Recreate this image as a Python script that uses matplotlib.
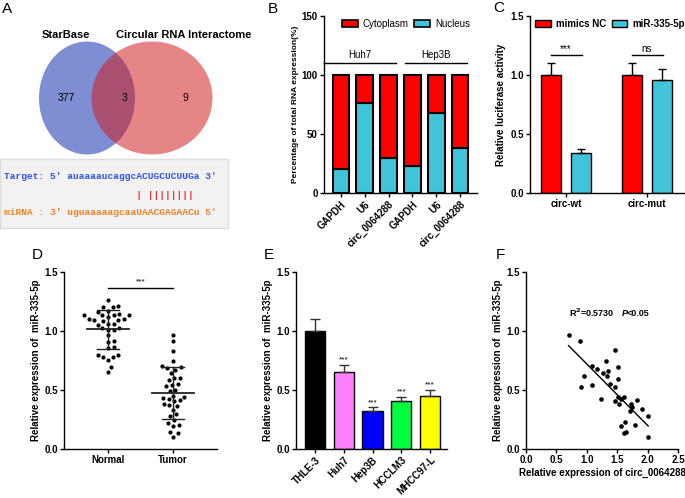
import numpy as np
import matplotlib
matplotlib.use("Agg")
import matplotlib.pyplot as plt
from matplotlib.patches import Ellipse, Rectangle, Patch

# ---- panel A: venn + pairing ----
venn_sets = ["StarBase", "Circular RNA Interactome"]
venn_counts = [377, 3, 9]
target_seq = "Target: 5' auaaaaucaggcACUGCUCUUGa 3'"
pairing = "                       | ||||||||"
mirna_seq = "miRNA : 3' uguaaaaagcaaUAACGAGAACu 5'"

# ---- panel B: subcellular fractions ----
b_cells = ["Huh7", "Hep3B"]
b_genes = ["GAPDH", "U6", "circ_0064288"]
b_nucleus = [20, 76, 30, 23, 68, 38]

# ---- panel C: luciferase ----
c_groups = ["circ-wt", "circ-mut"]
c_series = ["mimics NC", "miR-335-5p"]
c_mean = [[1.00, 1.00], [0.34, 0.96]]
c_err = [[0.10, 0.10], [0.03, 0.09]]
c_sig = ["***", "ns"]

# ---- panel D: tissue expression ----
d_groups = ["Normal", "Tumor"]
d_normal = [1.26, 1.20, 1.20, 1.21, 1.17, 1.16, 1.14, 1.13, 1.13, 1.13, 1.13, 1.12,
            1.10, 1.10, 1.09, 1.09, 1.08, 1.06, 1.06, 1.05, 1.02, 1.02, 1.01, 1.01,
            0.96, 0.91, 0.90, 0.86, 0.85, 0.79, 0.79, 0.78, 0.78, 0.75, 0.69, 0.65]
d_tumor = [0.96, 0.91, 0.83, 0.74, 0.70, 0.69, 0.68, 0.67, 0.64, 0.60, 0.60, 0.58,
           0.55, 0.54, 0.53, 0.50, 0.49, 0.45, 0.44, 0.43, 0.42, 0.41, 0.40, 0.38,
           0.37, 0.36, 0.33, 0.29, 0.28, 0.24, 0.22, 0.20, 0.19, 0.14, 0.13, 0.10]
d_sig = "***"

# ---- panel E: cell lines ----
e_lines = ["THLE-3", "Huh7", "Hep3B", "HCCLM3", "MHCC97-L"]
e_mean = [1.00, 0.65, 0.32, 0.40, 0.45]
e_err = [0.10, 0.06, 0.03, 0.04, 0.05]
e_sig = ["", "***", "***", "***", "***"]
e_colors = ["#000000", "#ff80ff", "#0000ff", "#00ff40", "#ffff00"]

# ---- panel F: correlation ----
f_circ = [0.70, 0.89, 0.90, 0.95, 1.08, 1.09, 1.17, 1.24, 1.26, 1.32, 1.33, 1.35,
          1.38, 1.46, 1.47, 1.46, 1.52, 1.52, 1.51, 1.53, 1.56, 1.56, 1.61, 1.63,
          1.61, 1.64, 1.71, 1.73, 1.74, 1.79, 1.82, 1.90, 2.00, 2.01]
f_mir = [0.96, 0.91, 0.525, 0.62, 0.70, 0.54, 0.675, 0.42, 0.64, 0.74, 0.62, 0.66,
         0.55, 0.84, 0.525, 0.40, 0.695, 0.59, 0.44, 0.375, 0.42, 0.195, 0.44, 0.23,
         0.135, 0.14, 0.32, 0.38, 0.355, 0.20, 0.41, 0.34, 0.28, 0.10]
f_note = "R$^2$=0.5730"

RED = "#ff0000"
CYAN = "#40c4da"

plt.rcParams["font.family"] = ["Liberation Sans", "DejaVu Sans"]
plt.rcParams["font.weight"] = "bold"
plt.rcParams["axes.labelweight"] = "bold"

W, H = 685, 498
fig = plt.figure(figsize=(W / 100, H / 100), dpi=100)


def px_axes(l, t, r, b):
    return fig.add_axes([l / W, 1 - b / H, (r - l) / W, (b - t) / H])


def style(ax):
    for s in ("top", "right"):
        ax.spines[s].set_visible(False)
    for s in ("left", "bottom"):
        ax.spines[s].set_linewidth(1.0)
    ax.tick_params(width=1, length=3, labelsize=7, pad=1.5)


def swarm(vals, d, ppu):
    ys = np.asarray(vals) * ppu
    xs = np.zeros(len(ys))
    placed = []
    for i in np.argsort(ys):
        y = ys[i]
        cand = [0.0]
        for px, py in placed:
            dy = y - py
            if abs(dy) < d:
                dx = np.sqrt(d * d - dy * dy)
                cand += [px + dx, px - dx]
        for c in sorted(cand, key=abs):
            if all((c - px) ** 2 + (y - py) ** 2 >= d * d - 1e-6 for px, py in placed):
                xs[i] = c
                break
        placed.append((xs[i], y))
    return xs


def letter(x, y, s):
    fig.text(x / W, 1 - y / H, s, fontsize=11, fontweight="normal", va="top", ha="left")


# ---------------- A ----------------
axA = px_axes(0, 0, 230, 250)
axA.set_xlim(0, 230)
axA.set_ylim(250, 0)
axA.axis("off")
axA.add_patch(Ellipse((87, 98), 96, 113, facecolor="#2643b6", alpha=0.6, lw=0))
axA.add_patch(Ellipse((152, 98), 121, 113, facecolor="#d11e1e", alpha=0.54, lw=0))
axA.text(66, 35, venn_sets[0], ha="center", va="center", fontsize=8)
axA.text(184, 35, venn_sets[1], ha="center", va="center", fontsize=8)
for xc, n in zip([66, 125, 185], venn_counts):
    axA.text(xc, 98, str(n), ha="center", va="center", fontsize=7.5, fontweight="normal")
axA.add_patch(Rectangle((0, 159), 228, 69, facecolor="#f2f2f2", edgecolor="#dddddd", lw=1))
mono = dict(family="Liberation Mono", fontsize=6.8, fontweight="bold", va="center", ha="left")
axA.text(4, 176, target_seq, color="#2f52ee", **mono)
axA.text(4, 195, pairing, color="#e03a3a", **mono)
axA.text(4, 212, mirna_seq, color="#f08228", **mono)
letter(2, 2, "A")

# ---------------- B ----------------
axB = px_axes(324, 16, 477, 193)
style(axB)
xb = np.arange(len(b_nucleus))
nuc = np.array(b_nucleus)
axB.bar(xb, nuc, 0.7, color=CYAN, edgecolor="black", lw=1.5)
axB.bar(xb, 100 - nuc, 0.7, bottom=nuc, color=RED, edgecolor="black", lw=1.5)
axB.set_xlim(-0.71, 5.71)
axB.set_ylim(0, 150)
axB.set_yticks([0, 50, 100, 150])
axB.set_xticks(xb)
axB.set_xticklabels(b_genes * len(b_cells), rotation=45, ha="right", rotation_mode="anchor")
axB.set_ylabel("Percentage of total RNA expression(%)", fontsize=6, labelpad=2)
for i, (cell, x0, x1) in enumerate(zip(b_cells, [-0.7, 2.7], [2.3, 5.3])):
    axB.plot([x0, x1], [110, 110], color="black", lw=1, clip_on=False)
    axB.text((x0 + x1) / 2, 113, cell, ha="center", va="bottom", fontsize=7, fontweight="normal")
axB.legend(handles=[Patch(facecolor=RED, edgecolor="black", lw=1.2, label="Cytoplasm"),
                    Patch(facecolor=CYAN, edgecolor="black", lw=1.2, label="Nucleus")],
           ncol=2, frameon=False, loc="center", bbox_to_anchor=(406 / W, 1 - 24 / H),
           bbox_transform=fig.transFigure, prop=dict(size=7, weight="normal"),
           handlelength=1.6, handleheight=0.8, columnspacing=0.6, handletextpad=0.5)
letter(268, 2, "B")

# ---------------- C ----------------
axC = px_axes(530, 16, 685, 193)
style(axC)
offs = [-0.185, 0.185]
for j, (name, col) in enumerate(zip(c_series, [RED, CYAN])):
    xs = np.arange(len(c_groups)) + offs[j]
    axC.bar(xs, c_mean[j], 0.247, color=col, edgecolor="black", lw=1, label=name)
    axC.errorbar(xs, c_mean[j], yerr=[np.zeros(len(xs)), c_err[j]], fmt="none",
                 ecolor="black", elinewidth=1, capsize=3, capthick=1)
for g, s in enumerate(c_sig):
    axC.plot([g - 0.19, g + 0.2], [1.17, 1.17], color="black", lw=1)
    axC.text(g, 1.18, s, ha="center", va="bottom", fontsize=7, fontweight="normal")
axC.set_xlim(-0.444, 1.469)
axC.set_ylim(0, 1.5)
axC.set_yticks([0, 0.5, 1.0, 1.5])
axC.set_yticklabels(["0.0", "0.5", "1.0", "1.5"])
axC.set_xticks(range(len(c_groups)))
axC.set_xticklabels(c_groups)
axC.set_ylabel("Relative luciferase activity", fontsize=7, labelpad=3)
axC.legend(ncol=2, frameon=False, loc="center", bbox_to_anchor=(610 / W, 1 - 24 / H),
           bbox_transform=fig.transFigure, prop=dict(size=7, weight="bold"),
           handlelength=1.6, handleheight=0.8, columnspacing=0.6, handletextpad=0.5)
letter(493, 1, "C")

# ---------------- D ----------------
axD = px_axes(64, 271.7, 217, 448.7)
style(axD)
for g, vals in enumerate([d_normal, d_tumor]):
    v = np.array(vals)
    xs = g + swarm(v, 5.8, 118) / 65
    axD.scatter(xs, v, s=9, color="black", lw=0, zorder=3)
    m, sd = v.mean(), v.std(ddof=1)
    axD.plot([g - 0.33, g + 0.33], [m, m], color="#222222", lw=1.3, zorder=4)
    axD.plot([g - 0.17, g + 0.17], [m + sd, m + sd], color="#222222", lw=1, zorder=4)
    axD.plot([g - 0.17, g + 0.17], [m - sd, m - sd], color="#222222", lw=1, zorder=4)
    axD.plot([g, g], [m - sd, m + sd], color="#222222", lw=1, zorder=4)
axD.plot([0, 1], [1.365, 1.365], color="black", lw=1)
axD.text(0.5, 1.38, d_sig, ha="center", va="bottom", fontsize=6, fontweight="normal")
axD.set_xlim(-0.677, 1.677)
axD.set_ylim(0, 1.5)
axD.set_yticks([0, 0.5, 1.0, 1.5])
axD.set_yticklabels(["0.0", "0.5", "1.0", "1.5"])
axD.set_xticks([0, 1])
axD.set_xticklabels(d_groups)
axD.set_ylabel("Relative expression of  miR-335-5p", fontsize=7, labelpad=2)
letter(32, 248, "D")

# ---------------- E ----------------
axE = px_axes(296, 271.7, 447, 448.7)
style(axE)
xe = np.arange(len(e_lines))
axE.bar(xe, e_mean, 0.7, color=e_colors, edgecolor="black", lw=1)
axE.errorbar(xe, e_mean, yerr=[np.zeros(len(xe)), e_err], fmt="none",
             ecolor="#333333", elinewidth=1, capsize=3.5, capthick=1)
for xi, m, e, s in zip(xe, e_mean, e_err, e_sig):
    axE.text(xi, m + e + 0.01, s, ha="center", va="bottom", fontsize=6, fontweight="normal")
axE.set_xlim(-0.66, 4.59)
axE.set_ylim(0, 1.5)
axE.set_yticks([0, 0.5, 1.0, 1.5])
axE.set_yticklabels(["0.0", "0.5", "1.0", "1.5"])
axE.set_xticks(xe)
axE.set_xticklabels(e_lines, rotation=45, ha="right", rotation_mode="anchor")
axE.set_ylabel("Relative expression of  miR-335-5p", fontsize=7, labelpad=2)
letter(264, 248, "E")

# ---------------- F ----------------
axF = px_axes(526, 271.7, 678, 448.7)
style(axF)
fx, fy = np.array(f_circ), np.array(f_mir)
axF.scatter(fx, fy, s=11, color="black", lw=0, zorder=3)
k, b0 = np.polyfit(fx, fy, 1)
lx = np.array([fx.min(), fx.max()])
axF.plot(lx, k * lx + b0, color="black", lw=1)
axF.text(0.71, 1.15, f_note, ha="left", va="center", fontsize=6.5)
axF.text(1.58, 1.15, "P", ha="left", va="center", fontsize=6.5, fontstyle="italic")
axF.text(1.66, 1.15, "<0.05", ha="left", va="center", fontsize=6.5)
axF.set_xlim(0, 2.5)
axF.set_ylim(0, 1.5)
axF.set_xticks([0, 0.5, 1.0, 1.5, 2.0, 2.5])
axF.set_xticklabels(["0.0", "0.5", "1.0", "1.5", "2.0", "2.5"])
axF.set_yticks([0, 0.5, 1.0, 1.5])
axF.set_yticklabels(["0.0", "0.5", "1.0", "1.5"])
axF.set_xlabel("Relative expression of circ_0064288", fontsize=7, labelpad=2)
axF.set_ylabel("Relative expression of  miR-335-5p", fontsize=7, labelpad=2)
letter(496, 248, "F")

fig.savefig("out.png", dpi=100)
